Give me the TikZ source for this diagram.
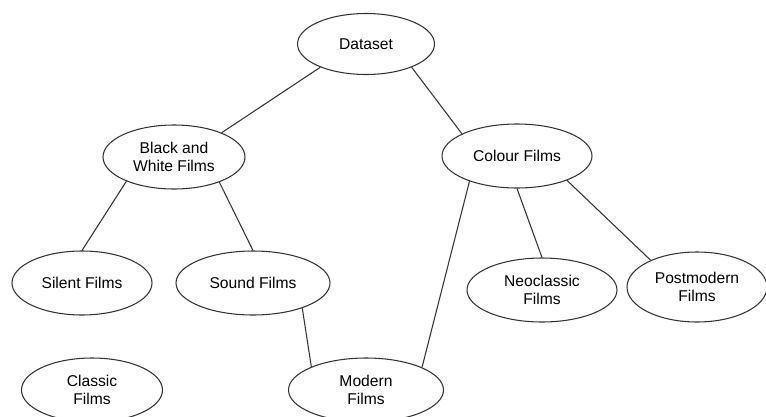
\documentclass[tikz,border=0pt]{standalone}
\usepackage{fontspec}
\setmainfont{Liberation Sans}
\usetikzlibrary{shapes.geometric}

\begin{document}
\begin{tikzpicture}[
    film/.style={ellipse, draw=black!80, line width=0.6pt, inner sep=0pt,
      minimum width=2.9cm, minimum height=1.28cm, align=center,
      font=\fontsize{8.9}{10.6}\selectfont}
  ]
          \useasboundingbox (0,0) rectangle (15.32,-8.34);

          \node[film, minimum width=2.74cm, minimum height=1.22cm] (dataset) at (7.32,-0.88) {Dataset};
          \node[film, minimum width=2.84cm] (bw) at (3.48,-3.14) {Black and\\White Films};
          \node[film, minimum width=3.0cm] (colour) at (10.34,-3.12) {Colour Films};
          \node[film, minimum width=2.8cm] (silent) at (1.64,-5.66) {Silent Films};
          \node[film, minimum width=3.08cm] (sound) at (5.06,-5.66) {Sound Films};
          \node[film, minimum width=3.0cm] (neo) at (10.84,-5.8) {Neoclassic\\Films};
          \node[film, minimum width=2.8cm, minimum height=1.4cm] (post) at (13.94,-5.74) {Postmodern\\Films};
          \node[film, minimum width=2.82cm] (classic) at (1.84,-7.8) {Classic\\Films};
          \node[film, minimum width=3.1cm] (modern) at (7.32,-7.8) {Modern\\Films};

          \foreach \a/\b in {dataset.207/bw.27, dataset.333/colour.158,
                             bw.207/silent.90, bw.331/sound.90,
                             colour.208/modern.22, colour.270/neo.90,
                             colour.334/post.150, sound.333/modern.157} {
            \draw[black!80, line width=0.6pt] (\a) -- (\b);
          }
        \end{tikzpicture}
\end{document}
